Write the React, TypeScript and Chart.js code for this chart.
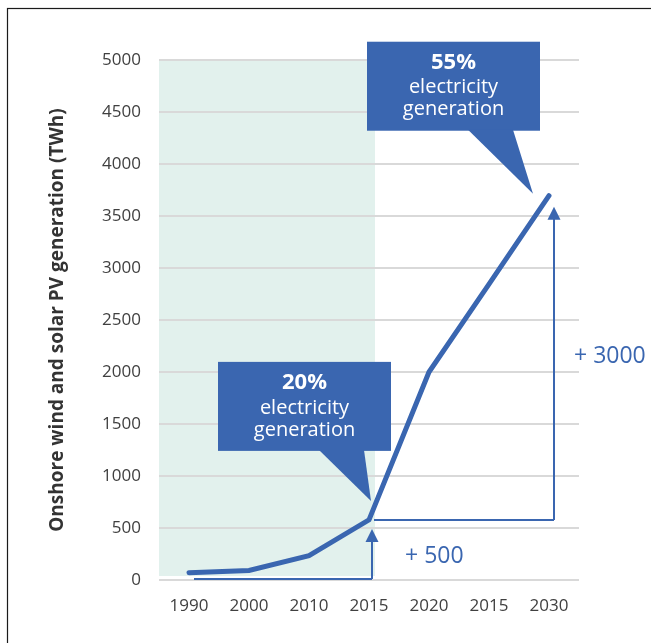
import React, { useEffect, useRef } from "react";
import { Chart, registerables } from "chart.js";

Chart.register(...registerables);

// ---- data ----
const categories = ["1990", "2000", "2010", "2015", "2020", "2015", "2030"];
const generation = [70, 92, 235, 578, 2000, 2845, 3695];
const yMin = 0;
const yMax = 5000;
const yStep = 500;
const historicalEndIndex = 3;
const calloutTitles = ["20%", "55%"];
const calloutLines = ["electricity", "generation"];
const increaseLabels = ["+ 500", "+ 3000"];
const yAxisTitle = "Onshore wind and solar PV generation (TWh)";

const BLUE = "#3a66b0";
const FONT = "'Open Sans', sans-serif";

function arrowUp(ctx: CanvasRenderingContext2D, x: number, yFrom: number, yTip: number) {
  ctx.beginPath();
  ctx.moveTo(x, yFrom);
  ctx.lineTo(x, yTip + 10);
  ctx.stroke();
  ctx.beginPath();
  ctx.moveTo(x, yTip);
  ctx.lineTo(x - 6.5, yTip + 13);
  ctx.lineTo(x + 6.5, yTip + 13);
  ctx.closePath();
  ctx.fill();
}

function callout(
  ctx: CanvasRenderingContext2D,
  left: number,
  top: number,
  tipX: number,
  tipY: number,
  title: string
) {
  const w = 173;
  const h = 89;
  ctx.fillStyle = BLUE;
  ctx.fillRect(left, top, w, h);
  ctx.beginPath();
  ctx.moveTo(left + 101, top + h - 1);
  ctx.lineTo(left + 146, top + h - 1);
  ctx.lineTo(tipX, tipY);
  ctx.closePath();
  ctx.fill();
  ctx.fillStyle = "#ffffff";
  ctx.textAlign = "center";
  ctx.textBaseline = "middle";
  const cx = left + w / 2;
  ctx.font = `bold 22px ${FONT}`;
  ctx.fillText(title, cx, top + 21);
  ctx.font = `20px ${FONT}`;
  ctx.fillText(calloutLines[0], cx, top + 46);
  ctx.fillText(calloutLines[1], cx, top + 68);
}

const decorPlugin = {
  id: "decor",
  beforeDraw(chart: any) {
    const { ctx, chartArea, scales } = chart;
    const x = scales.x;
    const y = scales.y;
    ctx.save();
    // frame
    ctx.strokeStyle = "#1a1a1a";
    ctx.lineWidth = 1.2;
    ctx.strokeRect(7.5, 8.5, 700, 700);
    // historical shading
    ctx.fillStyle = "#e2f1ed";
    const right = x.getPixelForValue(historicalEndIndex) + 6;
    ctx.fillRect(chartArea.left, chartArea.top, right - chartArea.left, y.getPixelForValue(yMin) - 4 - chartArea.top);
    ctx.restore();
  },
  afterDatasetsDraw(chart: any) {
    const { ctx, scales } = chart;
    const x = scales.x;
    const y = scales.y;
    const i0 = 0;
    const iH = historicalEndIndex;
    const iL = generation.length - 1;
    const x0 = x.getPixelForValue(i0);
    const xH = x.getPixelForValue(iH);
    const xL = x.getPixelForValue(iL);
    const yZero = y.getPixelForValue(yMin);
    const yH = y.getPixelForValue(generation[iH]);
    const yL = y.getPixelForValue(generation[iL]);
    ctx.save();
    ctx.strokeStyle = BLUE;
    ctx.fillStyle = BLUE;
    ctx.lineWidth = 2;
    // +500 arrow
    ctx.beginPath();
    ctx.moveTo(x0 + 5, yZero - 1);
    ctx.lineTo(xH + 3, yZero - 1);
    ctx.stroke();
    arrowUp(ctx, xH + 3, yZero - 1, yH + 9);
    // +3000 arrow
    ctx.beginPath();
    ctx.moveTo(xH + 5, yH);
    ctx.lineTo(xL + 5, yH);
    ctx.stroke();
    arrowUp(ctx, xL + 5, yH, yL + 11);
    // labels
    ctx.font = `23px ${FONT}`;
    ctx.textAlign = "left";
    ctx.textBaseline = "middle";
    ctx.fillText(increaseLabels[0], xH + 36, yZero - 24);
    ctx.fillText(increaseLabels[1], xL + 25, y.getPixelForValue(2150));
    // callouts
    callout(ctx, xH - 151, yH - 158, xH + 2, yH - 19, calloutTitles[0]);
    callout(ctx, xL - 182, yL - 154, xL - 16, yL - 2, calloutTitles[1]);
    ctx.restore();
  },
};

export default function App() {
  const ref = useRef<HTMLCanvasElement | null>(null);
  useEffect(() => {
    if (!ref.current) return;
    const chart = new Chart(ref.current, {
      type: "line",
      data: {
        labels: categories,
        datasets: [
          {
            data: generation,
            borderColor: BLUE,
            borderWidth: 5,
            borderCapStyle: "round",
            borderJoinStyle: "miter",
            pointRadius: 0,
            tension: 0,
            fill: false,
          },
        ],
      },
      options: {
        responsive: false,
        animation: false,
        devicePixelRatio: 1,
        layout: { padding: { top: 60, right: 72, bottom: 0, left: 0 } },
        plugins: { legend: { display: false }, tooltip: { enabled: false } },
        scales: {
          x: {
            offset: true,
            grid: { display: false, drawTicks: false },
            border: { display: false },
            ticks: { color: "#404040", font: { family: FONT, size: 17 }, padding: 16, maxRotation: 0 },
            afterFit: (s: any) => {
              s.height = 63;
            },
          },
          y: {
            min: yMin,
            max: yMax,
            ticks: {
              stepSize: yStep,
              color: "#404040",
              font: { family: FONT, size: 17 },
              padding: 18,
              callback: (v: any) => String(v),
            },
            grid: { color: "#d9d9d9", lineWidth: 2, drawTicks: false },
            border: { display: false },
            title: {
              display: true,
              text: yAxisTitle,
              color: "#333333",
              font: { family: FONT, size: 19, weight: "bold", lineHeight: 1.2 },
              padding: { top: 46, bottom: 0 },
            },
            afterFit: (s: any) => {
              s.width = 159;
            },
          },
        },
      },
      plugins: [decorPlugin],
    } as any);
    return () => chart.destroy();
  }, []);
  return (
    <div style={{ position: "absolute", left: 0, top: 0, width: 651, height: 643, background: "#fff" }}>
      <canvas ref={ref} width={651} height={643} />
    </div>
  );
}
